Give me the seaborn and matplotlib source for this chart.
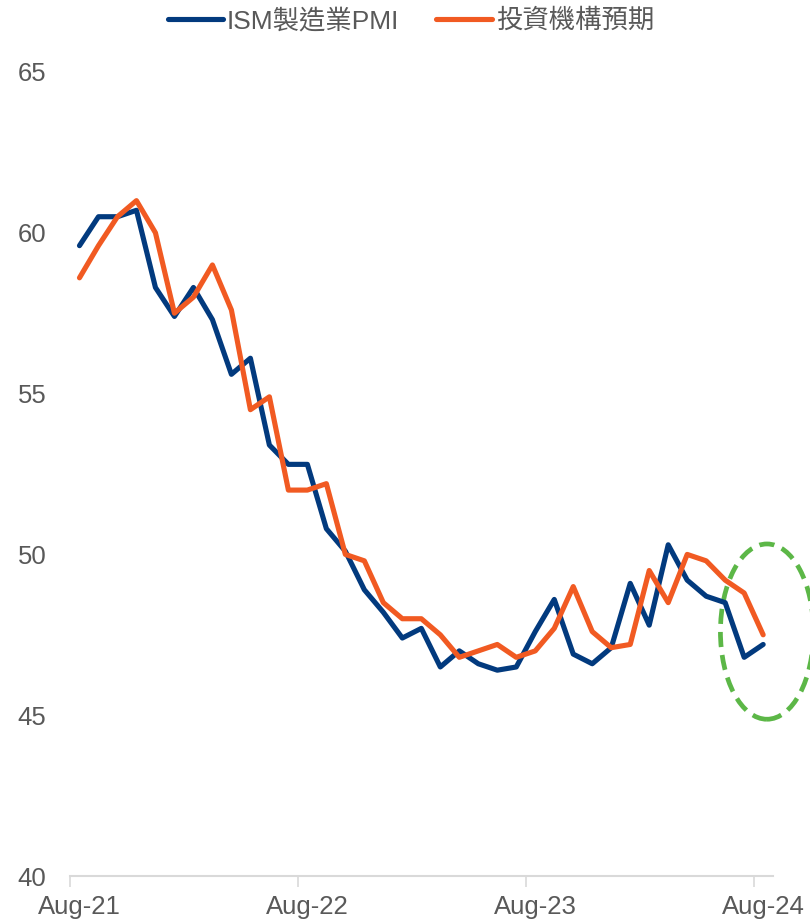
import matplotlib
matplotlib.use("Agg")
import matplotlib.pyplot as plt
from matplotlib.patches import Ellipse
from matplotlib.ticker import FixedLocator
import numpy as np
import pandas as pd
import seaborn as sns

# Monthly series, Aug-21 .. Aug-24
months = pd.date_range("2021-08-01", "2024-08-01", freq="MS").strftime("%b-%y").tolist()
ism_pmi = [59.6, 60.5, 60.5, 60.7, 58.3, 57.4, 58.3, 57.3, 55.6, 56.1, 53.4, 52.8,
           52.8, 50.8, 50.1, 48.9, 48.2, 47.4, 47.7, 46.5, 47.0, 46.6, 46.4, 46.5,
           47.6, 48.6, 46.9, 46.6, 47.1, 49.1, 47.8, 50.3, 49.2, 48.7, 48.5, 46.8,
           47.2]
consensus = [58.6, 59.6, 60.5, 61.0, 60.0, 57.5, 58.0, 59.0, 57.6, 54.5, 54.9, 52.0,
             52.0, 52.2, 50.0, 49.8, 48.5, 48.0, 48.0, 47.5, 46.8, 47.0, 47.2, 46.8,
             47.0, 47.7, 49.0, 47.6, 47.1, 47.2, 49.5, 48.5, 50.0, 49.8, 49.2, 48.8,
             47.5]
series_names = ["ISM製造業PMI", "投資機構預期"]
series_colors = ["#023A7E", "#F15A22"]
tick_labels = ["Aug-21", "Aug-22", "Aug-23", "Aug-24"]
y_ticks = [40, 45, 50, 55, 60, 65]

sns.set_theme(style="white")
plt.rcParams["font.family"] = ["Liberation Sans", "Noto Sans CJK TC", "DejaVu Sans"]

df = pd.DataFrame({"idx": np.arange(len(months)), "month": months,
                   series_names[0]: ism_pmi, series_names[1]: consensus})

fig = plt.figure(figsize=(8.10, 9.23), dpi=100)
ax = fig.add_axes([0.0864, 0.0509, 0.8675, 0.8711])

for name, color in zip(series_names, series_colors):
    sns.lineplot(data=df, x="idx", y=name, ax=ax, color=color, linewidth=3.7,
                 label=name, legend=False, solid_joinstyle="round",
                 solid_capstyle="round")

ax.set_xlim(-0.5, len(months) - 0.5)
ax.set_ylim(40, 65)
ax.set_xlabel("")
ax.set_ylabel("")

label_pos = [months.index(t) for t in tick_labels]
ax.set_xticks(label_pos)
ax.set_xticklabels(tick_labels)
ax.xaxis.set_minor_locator(FixedLocator([p - 0.5 for p in label_pos]))
ax.tick_params(axis="x", which="major", length=0, pad=14, labelsize=18.5,
               labelcolor="#595959")
ax.tick_params(axis="x", which="minor", length=8, width=1.2, color="#D9D9D9",
               bottom=True)
ax.set_yticks(y_ticks)
ax.tick_params(axis="y", length=0, pad=17, labelsize=18.5, labelcolor="#595959")

for side in ["top", "right", "left"]:
    ax.spines[side].set_visible(False)
ax.spines["bottom"].set_color("#D9D9D9")
ax.spines["bottom"].set_linewidth(1.5)
ax.grid(False)

# Highlight of the latest readings
ax.add_patch(Ellipse((36.2, 47.6), width=4.9, height=5.45, fill=False,
                     edgecolor="#5CB747", linewidth=3.4,
                     linestyle=(0, (3.2, 1.7)), clip_on=False))

handles = ax.get_lines()[:2]
leg = fig.legend(handles, series_names, loc="upper center",
                 bbox_to_anchor=(0.507, 1.017), ncol=2, frameon=False,
                 fontsize=19, handlelength=2.1, handletextpad=0.15,
                 columnspacing=1.4, labelcolor="#595959")
for h in leg.get_lines():
    h.set_solid_capstyle("round")

fig.savefig("out.png", dpi=100)
